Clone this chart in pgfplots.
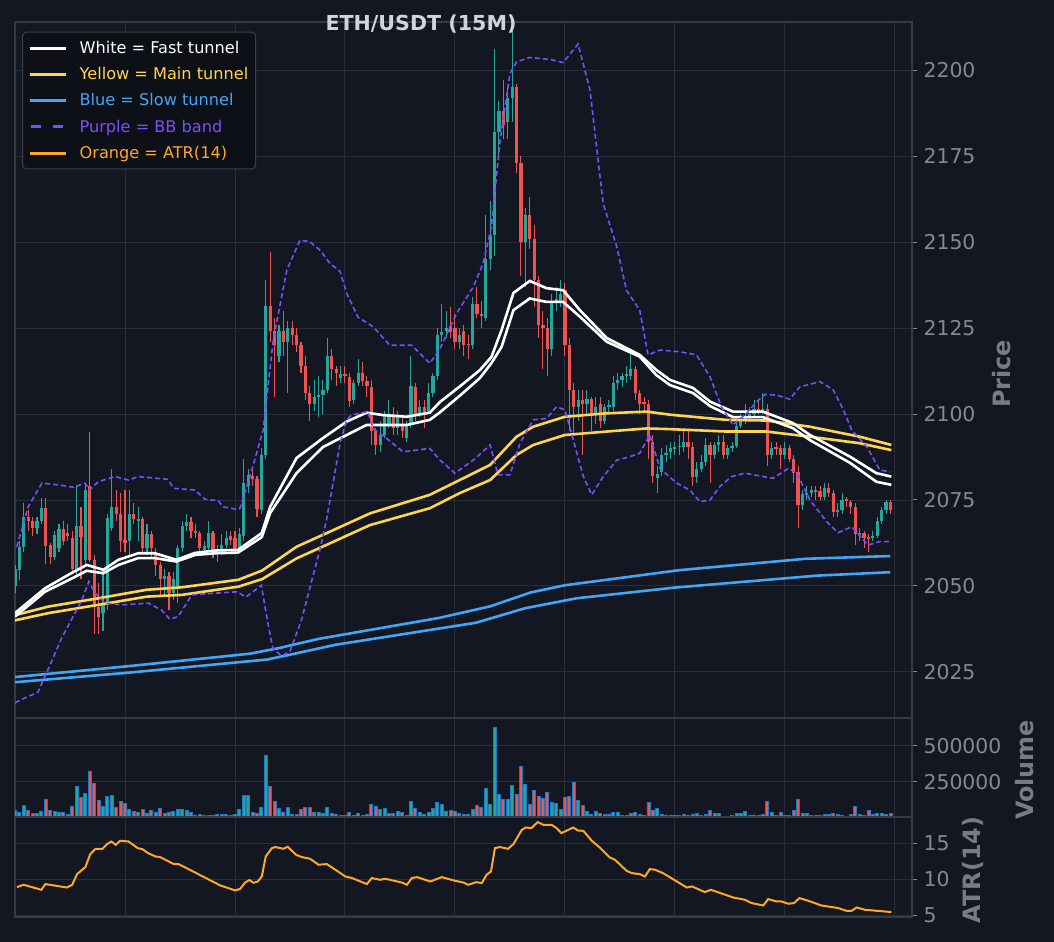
\documentclass[border=0pt]{standalone}
\usepackage{fontspec}
\setmainfont{DejaVu Sans}
\usepackage{pgfplots}
\usepackage{pgfplotstable}
\pgfplotsset{compat=1.18}
\definecolor{bgc}{HTML}{131722}
\definecolor{gridc}{HTML}{2A2E39}
\definecolor{spinec}{HTML}{363A45}
\definecolor{tickc}{HTML}{868993}
\definecolor{labelc}{HTML}{787B86}
\definecolor{titlec}{HTML}{D1D4DC}
\definecolor{cup}{HTML}{26A69A}
\definecolor{cdn}{HTML}{EF5350}
\definecolor{voledge}{HTML}{1E78C8}
\definecolor{cyel}{HTML}{FFD54F}
\definecolor{cblue}{HTML}{42A5F5}
\definecolor{cpur}{HTML}{7C4DFF}
\definecolor{corg}{HTML}{FFA726}
\definecolor{legbg}{HTML}{0D1017}
\definecolor{legdraw}{HTML}{3A3F4B}

\pgfplotstableread{
i o h l c v
0 2050 2056 2048 2055 52000
1 2054.7 2063 2051.8 2061.4 36000
2 2061.4 2074 2060 2070.1 86000
3 2070 2072 2066 2069 52000
4 2069 2070 2064.5 2066.8 29000
5 2066.8 2070 2065 2069 27000
6 2069 2075.5 2068 2072.7 41000
7 2072.7 2075.5 2056.5 2061.7 124000
8 2061.9 2062.5 2056.5 2058.4 48000
9 2058.4 2066 2057.5 2064.9 41000
10 2061 2068 2060 2066.7 36000
11 2066.5 2069 2062 2063 34000
12 2065.5 2068 2063 2064.5 22000
13 2064 2066 2054 2055 77000
14 2055 2079 2053 2067.5 215000
15 2067.5 2073 2052 2064.3 137000
16 2057.6 2080 2056 2078 167000
17 2079 2094.8 2057 2057.6 325000
18 2057.6 2059 2036 2044 236000
19 2044 2051 2036 2041 117000
20 2042 2055 2037 2045 77000
21 2045 2071 2043 2069.8 146000
22 2067 2084 2066 2073 153000
23 2073 2078 2069 2071 70000
24 2071 2077 2060 2063 110000
25 2063.5 2078 2060 2062.5 96000
26 2063 2078 2059 2071 55000
27 2071 2074 2068 2069.5 41000
28 2069 2073 2063 2069.5 34000
29 2069.5 2070 2060 2061 55000
30 2061 2068 2059 2065 27000
31 2065 2066 2058 2061 50000
32 2060 2061 2053 2056 39000
33 2056 2057 2047 2052 63000
34 2052 2055 2047 2053 27000
35 2053 2054 2043 2048 39000
36 2048 2054 2046 2052 41000
37 2049 2062 2045 2061 55000
38 2061 2069 2060 2067.5 55000
39 2067.5 2071 2066 2068.5 50000
40 2068.5 2070 2064 2066 34000
41 2066 2068 2064 2065.5 18000
42 2065.5 2066 2059 2061 20000
43 2060.5 2063 2059 2061.5 15000
44 2061 2069 2060 2065.5 15000
45 2065.5 2066 2058 2060 15000
46 2060 2062 2057 2059.5 20000
47 2060 2065 2059 2062 20000
48 2062 2066 2061 2064 20000
49 2064.5 2066 2062 2063.5 15000
50 2064 2066 2060 2061 20000
51 2061 2067 2060 2065 55000
52 2064.5 2087 2063 2080 153000
53 2079 2084 2077 2082.3 153000
54 2082 2084 2079 2081 34000
55 2081 2082 2070 2072.3 27000
56 2072 2090 2071 2088 70000
57 2088 2139 2087 2131.5 436000
58 2131.5 2147 2121 2124.2 215000
59 2124 2128 2105 2120 110000
60 2117 2126 2115 2124 63000
61 2124 2130 2117 2121 39000
62 2121 2127 2106 2125 70000
63 2125 2127 2120 2123 20000
64 2123 2125 2118 2120 20000
65 2120 2121 2112 2114 55000
66 2114 2117 2104 2106 70000
67 2106 2108 2098 2103 70000
68 2103 2110 2101 2105 36000
69 2105 2111 2099 2105.6 36000
70 2105.5 2110 2100 2107 27000
71 2107 2122 2106 2117 70000
72 2117 2119 2110 2113 27000
73 2113 2114 2108 2112 20000
74 2110.5 2114 2109 2111.5 13000
75 2111.5 2114 2109 2111 13000
76 2110.8 2112 2102 2103.9 36000
77 2104 2110 2103 2109 15000
78 2109 2116 2108 2112 27000
79 2112 2115 2108 2109.5 15000
80 2109.5 2111 2105 2108 22000
81 2108 2110 2091 2095 89000
82 2095 2096 2088 2091 77000
83 2091 2098 2089 2094 55000
84 2094 2101 2093 2100 63000
85 2097 2104 2096 2100 27000
86 2100 2102 2094 2096 27000
87 2096 2101 2094 2099 41000
88 2097 2099 2093 2095 36000
89 2093 2098 2092 2097 15000
90 2097 2117 2096 2108 110000
91 2108 2109 2098 2100 63000
92 2100 2104 2099 2102 36000
93 2102 2104 2096 2100 22000
94 2101 2109 2100 2106 36000
95 2106 2112 2105 2111 63000
96 2111 2125 2110 2123 103000
97 2123 2132 2121 2124 89000
98 2124 2130 2122 2125 41000
99 2125.5 2131 2122 2124 48000
100 2125 2129 2119 2121 41000
101 2121 2125 2119 2123 27000
102 2124 2126 2117 2120 25000
103 2120.5 2123 2116 2120 25000
104 2120 2134 2119 2132 55000
105 2132 2137 2128 2129 84000
106 2129 2133 2125 2128.5 70000
107 2128 2158 2127 2145 201000
108 2145 2162 2142 2152 89000
109 2152 2206 2146 2182 626000
110 2182 2191 2175 2188 160000
111 2188 2197 2180 2184 124000
112 2185 2195 2180 2192 124000
113 2192 2212 2185 2195 222000
114 2195 2196 2170 2173 160000
115 2173 2175 2140 2150 357000
116 2150 2160 2137 2158 229000
117 2158 2163 2148 2151 89000
118 2151 2155 2131 2139 192000
119 2139 2140 2122 2126 146000
120 2126 2130 2113 2125 131000
121 2125 2128 2111 2119 172000
122 2119 2135 2117 2133 103000
123 2133 2137 2130 2133.5 96000
124 2133 2139 2131 2135 55000
125 2136 2138 2117 2120 139000
126 2120 2122 2095 2107 146000
127 2107 2109 2094 2102 243000
128 2102 2107 2098 2104 117000
129 2104 2107 2088 2103 84000
130 2103 2107 2100 2104.5 41000
131 2104.5 2105 2095 2100 20000
132 2100 2105 2097 2102 41000
133 2103 2105 2096 2098 27000
134 2098 2103 2097 2102 20000
135 2102 2104 2100 2102.5 25000
136 2102 2111 2101 2109 36000
137 2109 2112 2107 2110 36000
138 2110 2112 2108 2111 15000
139 2111 2114 2109 2111.5 15000
140 2111 2118 2110 2113 27000
141 2113 2114 2104 2106 36000
142 2106 2107 2100 2103 24000
143 2103.5 2105 2101 2103 13000
144 2103 2104 2087 2092 103000
145 2092 2094 2080 2082 50000
146 2081.5 2085 2077 2082.5 63000
147 2083 2090 2082 2088 20000
148 2088 2091 2086 2088.8 18000
149 2089 2092 2087 2090 18000
150 2090 2092 2088 2090.5 13000
151 2090.5 2094 2088 2090.7 13000
152 2090.5 2095 2089 2092 20000
153 2092 2095 2087 2090.5 18000
154 2090.5 2092 2079 2081.8 25000
155 2081.8 2086 2080 2084 27000
156 2084 2088 2083 2086 13000
157 2086 2093 2085 2091 20000
158 2091 2092 2080 2088 50000
159 2088 2092 2087 2091 27000
160 2091 2094 2089 2092 27000
161 2092 2094 2087 2088 8000
162 2088 2091 2087 2090 8000
163 2090 2092 2089 2090.7 15000
164 2090.7 2098 2090 2096.6 27000
165 2096.6 2100 2096 2098 27000
166 2098 2103 2097 2099 41000
167 2099 2102 2098 2100 13000
168 2100 2104 2099 2101.6 18000
169 2101.6 2104 2100 2101 15000
170 2101 2106 2100 2101.5 20000
171 2101.5 2103 2085 2088 110000
172 2088 2092 2087 2090 36000
173 2090.5 2092 2088 2090 13000
174 2090 2091 2084 2088 36000
175 2088 2092 2087 2090 13000
176 2090 2091 2086 2087 13000
177 2087 2088 2080 2083 50000
178 2083 2085 2067 2073.5 124000
179 2073.5 2078 2072 2076.7 27000
180 2076.7 2079 2075 2077 27000
181 2077 2079 2076 2078 13000
182 2078 2079 2075 2077.5 13000
183 2077.5 2079 2075 2076 13000
184 2076 2080 2075 2078.5 20000
185 2078.5 2080 2076 2077 20000
186 2077 2078 2070 2071.6 27000
187 2071.6 2074 2070 2072 20000
188 2072 2077 2071 2075 15000
189 2075.2 2076 2073 2074.8 8000
190 2074.5 2075 2071 2073 20000
191 2073 2074 2062 2065 77000
192 2065 2067 2063 2065.5 22000
193 2065.5 2066 2061 2064 13000
194 2064.2 2065 2060 2063.8 50000
195 2063.8 2066 2063 2064.5 20000
196 2064.5 2070 2064 2069 27000
197 2069 2073 2068 2072 27000
198 2072 2075 2071 2074.5 20000
199 2074.5 2075 2071 2072 27000
}\candles

\pgfplotsset{
  panel/.style={
    scale only axis, width=897bp,
    xmin=0, xmax=203.9,
    axis background/.style={fill=bgc},
    axis line style={draw=spinec, line width=2bp},
    grid=major, grid style={draw=gridc, line width=0.9bp},
    xtick={25,50,75,100,125,150,175,200}, xticklabels={},
    xtick style={draw=none},
    ytick pos=right, yticklabel pos=right,
    tick align=outside, major tick length=5bp,
    ytick style={draw=tickc, line width=1bp},
    yticklabel style={font=\fontsize{20.5}{24}\selectfont, text=tickc, xshift=3bp},
    scaled y ticks=false,
  },
}

\begin{document}
\begin{tikzpicture}
\fill[bgc] (0,0) rectangle (1054bp,942bp);
\path[use as bounding box] (0,0) rectangle (1054bp,942bp);

% ---------------- main price panel ----------------
\begin{axis}[panel, at={(15bp,224bp)}, anchor=south west, height=696bp,
  ymin=2011.6, ymax=2214,
  ytick={2025,2050,2075,2100,2125,2150,2175,2200},
  yticklabels={2025,2050,2075,2100,2125,2150,2175,2200},
  legend style={at={(0.008,0.986)}, anchor=north west, fill=legbg, draw=legdraw,
    line width=1bp, rounded corners=4bp, font=\fontsize{16.2}{19.4}\selectfont,
    inner xsep=5.5bp, inner ysep=7bp, row sep=8.5bp,
    /tikz/every odd column/.append style={column sep=10.5bp}},
  legend cell align=left,
  legend image code/.code={\draw[#1, line width=3bp] (0bp,0bp) -- (36bp,0bp);},
]
% wicks
\addplot[cup, mark=none, draw=none, forget plot, error bars/.cd, y dir=both, y explicit, error mark=none,
  error bar style={line width=1.1bp, draw=cup, draw opacity=1}]
  table[x=i, y expr={\thisrow{c}>=\thisrow{o} ? (\thisrow{h}+\thisrow{l})/2 : nan},
        y error expr={(\thisrow{h}-\thisrow{l})/2}] {\candles};
\addplot[cdn, mark=none, draw=none, forget plot, error bars/.cd, y dir=both, y explicit, error mark=none,
  error bar style={line width=1.1bp, draw=cdn, draw opacity=1}]
  table[x=i, y expr={\thisrow{c}<\thisrow{o} ? (\thisrow{h}+\thisrow{l})/2 : nan},
        y error expr={(\thisrow{h}-\thisrow{l})/2}] {\candles};
% bodies
\addplot[cup, mark=none, draw=none, forget plot, error bars/.cd, y dir=both, y explicit, error mark=none,
  error bar style={line width=3.2bp, draw=cup, draw opacity=1}]
  table[x=i, y expr={\thisrow{c}>=\thisrow{o} ? (\thisrow{o}+\thisrow{c})/2 : nan},
        y error expr={max(abs(\thisrow{c}-\thisrow{o})/2,0.15)}] {\candles};
\addplot[cdn, mark=none, draw=none, forget plot, error bars/.cd, y dir=both, y explicit, error mark=none,
  error bar style={line width=3.2bp, draw=cdn, draw opacity=1}]
  table[x=i, y expr={\thisrow{c}<\thisrow{o} ? (\thisrow{o}+\thisrow{c})/2 : nan},
        y error expr={max(abs(\thisrow{c}-\thisrow{o})/2,0.15)}] {\candles};

% blue slow tunnel
\addplot[cblue, line width=2.6bp, forget plot] coordinates {(0,2023.5) (26,2026.7) (53.4,2030.3) (59.9,2031.9) (69,2034.6) (96.4,2040.7) (108.1,2044.1) (117.2,2048.1) (125,2050.2) (151.1,2054.6) (179.7,2057.9) (199,2058.7)};
\addplot[cblue, line width=2.6bp, forget plot] coordinates {(0,2022) (26,2024.8) (57.3,2028.6) (62.5,2030) (72.9,2032.9) (104.8,2039.3) (115.9,2043.5) (127.6,2046.4) (149.8,2049.5) (182.3,2053) (199,2054)};
% yellow main tunnel
\addplot[cyel, line width=2.6bp, forget plot] coordinates {(0,2041.5) (7.6,2044) (18.9,2046.4) (30,2048.9) (37.9,2049.6) (50.8,2051.8) (56.2,2054.5) (64,2061.4) (71.6,2065.8) (80.7,2071.1) (94.3,2076.5) (101.1,2080.8) (108,2085.2) (114,2093.4) (117.8,2096.3) (125,2099.2) (134.5,2100.2) (143.6,2100.7) (148.9,2099.8) (161.7,2098.3) (170.8,2098.1) (180.7,2096.3) (192,2093.4) (199.2,2091)};
\addplot[cyel, line width=2.6bp, forget plot] coordinates {(0,2040) (7.6,2042.1) (18.9,2044.5) (30,2046.9) (37.9,2047.4) (50.8,2049.8) (56.2,2052) (64,2058) (71.6,2062.4) (80.7,2067.7) (94.3,2072.6) (101.1,2077) (108,2080.8) (114,2088.1) (117.8,2091) (125,2093.9) (134.5,2094.9) (143.6,2095.8) (148.9,2095.6) (161.7,2094.9) (170.8,2094.9) (180.7,2093.4) (192,2091.5) (199.2,2089.5)};
% white fast tunnel
\addplot[white, line width=2.6bp, forget plot] coordinates {(0,2042.1) (6.8,2049.3) (12.5,2053.5) (16.3,2056.1) (20.1,2054.7) (23.5,2057.6) (28,2059.5) (31.8,2059.5) (36.7,2057.6) (40.9,2059.6) (45.5,2060.3) (50.7,2060.5) (56.1,2065.4) (58,2073) (64,2087.2) (70,2093) (75.4,2097.8) (79.9,2100.4) (83.6,2099.7) (89,2099.2) (94.3,2100.4) (96.6,2103.5) (101.1,2108) (105.7,2112.8) (108.3,2116.6) (110.6,2124.4) (113.3,2135.2) (117,2138.7) (120.8,2136.6) (124.6,2136) (128.4,2130.2) (134.5,2122.1) (142,2117.2) (145.8,2112.8) (148.9,2109.9) (154.1,2107.6) (158,2103.6) (163.2,2100.7) (170,2100.7) (176.8,2097.4) (180.7,2093.9) (189.8,2087.6) (195.8,2082.8) (199.2,2081.8)};
\addplot[white, line width=2.6bp, forget plot] coordinates {(0,2041.1) (6.8,2048.3) (12.5,2051.9) (16.3,2054.4) (20.1,2053.7) (23.5,2056.1) (28,2058.1) (31.8,2058.1) (36.7,2057.1) (40.9,2059) (45.5,2059.5) (50.7,2059.7) (56.1,2064.2) (58,2071.2) (64,2082.8) (70,2090.4) (75.4,2093.9) (79.9,2096.8) (83.6,2096.8) (89,2096.8) (94.3,2098.3) (96.6,2100.5) (101.1,2105.3) (105.7,2110.5) (108.3,2114.8) (110.6,2119.5) (113.3,2130.2) (117,2133.6) (120.8,2132.6) (124.6,2132.6) (128.4,2128.3) (134.5,2121) (142,2116.7) (145.8,2111.3) (148.9,2108.4) (154.1,2106.1) (158,2102.3) (163.2,2099.1) (170,2099.1) (176.8,2095.9) (180.7,2092.4) (189.8,2085.8) (195.8,2080.3) (199.2,2079.4)};
% purple BB bands
\addplot[cpur, line width=1.6bp, dash pattern=on 5bp off 3bp, forget plot] coordinates {(0.4,2061.4) (3,2073) (6.1,2079.9) (9.8,2079.4) (13.3,2078.7) (15.9,2079.9) (17,2077.9) (18.9,2080.3) (22.7,2081.8) (25.8,2080.8) (28,2081.8) (34.8,2081) (36,2078.4) (40.9,2077.9) (43.2,2075.2) (46.2,2074.8) (47.3,2073) (50.4,2072.3) (51.1,2072.5) (53.4,2081.8) (56.4,2095.3) (58.7,2121.5) (61.8,2141.9) (64.8,2150.6) (67,2150.1) (69.3,2147.7) (71.6,2143.8) (73.9,2141.4) (75.4,2135.1) (78,2128.1) (81.4,2125.4) (85.2,2120) (90.2,2120) (94.3,2114.7) (96.6,2119) (100.4,2129.3) (104.2,2137) (106.4,2143.8) (108.3,2154.5) (110.2,2178.7) (112.5,2199) (114,2202.4) (117,2203.7) (121.6,2203.1) (124.6,2202.2) (128,2207.6) (130.7,2194.2) (133.7,2161.2) (136.8,2148.6) (139,2136) (142,2130.2) (143.9,2117.2) (146.6,2118.6) (151.1,2118.1) (154.9,2117.2) (158,2110.8) (160.6,2102.1) (163.2,2096.8) (166.3,2100.2) (168.6,2103.6) (170.5,2105.7) (173.1,2105.5) (176.1,2104.3) (178.4,2107.9) (183,2109.4) (186,2107) (188.3,2101.2) (190.2,2095.3) (193.6,2090.5) (196.6,2083.7) (198.9,2083.2)};
\addplot[cpur, line width=1.6bp, dash pattern=on 5bp off 3bp, forget plot] coordinates {(0,2016) (1.5,2017) (5.2,2019.1) (7.2,2024.8) (10.6,2034.8) (12,2038.2) (15.2,2045.9) (16.8,2051.3) (18.2,2047.9) (20.5,2045) (24.3,2044.5) (30.3,2045) (33.3,2043) (35.2,2040.3) (37.1,2041.1) (40.2,2047.4) (45.5,2047.9) (50.4,2048.3) (52.5,2046.8) (56,2050.2) (57.3,2040.5) (58.6,2031.9) (60.6,2029.6) (62.5,2031) (65.1,2040) (69.3,2060.5) (70.8,2069.2) (72.3,2079.9) (73.9,2091.6) (75.4,2098.3) (76.5,2099.7) (80.2,2100.7) (81.4,2095.8) (84.5,2092.9) (88.2,2089) (94.3,2090) (96.6,2086.6) (100,2082.8) (104.2,2086.6) (108,2091) (109.8,2082.3) (112.5,2082.3) (114.8,2091.5) (117.8,2098.3) (120.8,2098.7) (123.1,2102.1) (125,2101.2) (126.9,2092.4) (129.2,2081.8) (131.1,2076.5) (133.7,2081.8) (136.8,2086.6) (139.8,2087.6) (142,2088.6) (144.3,2093.9) (146.6,2084.2) (150.4,2079.9) (153.4,2077.9) (155.7,2074.5) (158,2075) (160.2,2078.9) (162.9,2081.8) (165.9,2082.8) (172.3,2081.3) (175.8,2084.2) (177.7,2082.8) (180.7,2075) (184.5,2068.7) (187.1,2065.5) (190.2,2067.2) (193.9,2061.9) (196.6,2062.9) (198.9,2062.9)};

\addlegendimage{white}
\addlegendentry{\textcolor{white}{White = Fast tunnel}}
\addlegendimage{cyel}
\addlegendentry{\textcolor{cyel}{Yellow = Main tunnel}}
\addlegendimage{cblue}
\addlegendentry{\textcolor{cblue}{Blue = Slow tunnel}}
\addlegendimage{cpur, dash pattern=on 10bp off 12bp, dash phase=-1.7bp}
\addlegendentry{\textcolor{cpur}{Purple = BB band}}
\addlegendimage{corg}
\addlegendentry{\textcolor{corg}{Orange = ATR(14)}}
\end{axis}

% ---------------- volume panel ----------------
\begin{axis}[panel, at={(15bp,124.5bp)}, anchor=south west, height=99.5bp,
  ymin=0, ymax=695000,
  ytick={250000,500000}, yticklabels={250000,500000}]
\addplot[ybar, bar width=3bp, bar shift=0pt, fill=cup, draw=voledge, line width=0.8bp, forget plot]
  table[x=i, y expr={\thisrow{c}>=\thisrow{o} ? \thisrow{v} : nan}] {\candles};
\addplot[ybar, bar width=3bp, bar shift=0pt, fill=cdn, draw=voledge, line width=0.8bp, forget plot]
  table[x=i, y expr={\thisrow{c}<\thisrow{o} ? \thisrow{v} : nan}] {\candles};
\end{axis}

% ---------------- ATR panel ----------------
\begin{axis}[panel, at={(15bp,24.5bp)}, anchor=south west, height=100bp,
  ymin=4.66, ymax=18.63,
  ytick={5,10,15}, yticklabels={5,10,15}]
\addplot[corg, line width=2bp] coordinates {(0.45,8.91) (1.97,9.23) (5.99,8.53) (6.9,9.33) (11.8,8.85) (13,9.23) (14.1,10.72) (16,11.7) (17.1,13.5) (18.3,14.26) (19.9,14.26) (20.9,14.9) (21.9,15.28) (22.9,14.8) (23.9,15.38) (25.8,15.28) (27.9,14.35) (29,14.2) (30.2,13.66) (31.9,13.19) (33,13.1) (36.1,12.12) (37.2,12.12) (46.7,9.13) (50.1,8.44) (51.2,8.67) (52.3,9.55) (53.3,9.89) (54.2,9.51) (55.2,9.69) (56.1,10.39) (57,13.19) (58.4,14.36) (59.2,14.5) (61,14.26) (62,14.54) (63.9,13.42) (65.2,13.1) (67.1,12.86) (69,12.03) (70.9,12.12) (75.1,10.39) (76.6,10.17) (80,9.33) (81.1,10.17) (83,9.93) (84.2,10.07) (87.9,9.55) (89.1,9.23) (90.2,10.17) (91.4,10.3) (94.4,9.69) (97,10.3) (100,9.79) (101.9,9.55) (103,9.23) (104.9,9.6) (106.1,9.47) (107.2,10.63) (108.2,11.1) (109.1,14.36) (110.2,14.5) (112.1,14.26) (113.3,14.92) (115.2,16.9) (116.1,17.23) (117.4,17.15) (118.8,17.99) (120.1,17.6) (122,17.6) (123.1,17.15) (124.2,16.45) (126.9,17.23) (128,16.8) (129.2,16.77) (131.1,15.38) (132.9,14.45) (135.2,13.05) (136.4,12.72) (139,11.19) (140.2,10.86) (142,10.72) (143.2,10.39) (144.3,11.42) (145.5,11.33) (147.3,10.86) (152.7,8.85) (153.9,9) (156.8,8.21) (158.2,8.53) (163.2,7.46) (165.9,7.14) (167.4,6.68) (170.1,6.34) (171.2,7.23) (173.1,6.9) (174.2,6.9) (175.8,6.58) (177.1,6.68) (178.3,7.37) (180.3,7) (183.3,6.34) (187.1,5.98) (189,5.6) (190.2,5.6) (191.3,6.06) (193.2,5.74) (199.2,5.42)};
\end{axis}

% titles and axis labels
\node[font=\bfseries\fontsize{20.7}{24}\selectfont, text=titlec] at (421bp,918bp) {ETH/USDT (15M)};
\node[rotate=90, font=\bfseries\fontsize{24}{28}\selectfont, text=labelc] at (1002bp,568bp) {Price};
\node[rotate=90, font=\bfseries\fontsize{24}{28}\selectfont, text=labelc] at (1025bp,172bp) {Volume};
\node[rotate=90, font=\bfseries\fontsize{24}{28}\selectfont, text=labelc] at (973bp,72bp) {ATR(14)};
\end{tikzpicture}
\end{document}
